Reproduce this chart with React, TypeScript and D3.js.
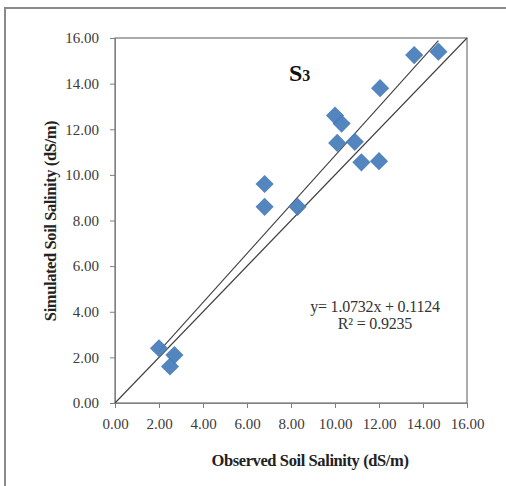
import * as d3 from "d3";
import React from "react";

// observed (x) vs simulated (y) soil salinity, dS/m
const observed = [2.0, 2.7, 2.5, 6.8, 6.8, 8.3, 10.0, 10.3, 10.1, 10.9, 11.2, 12.0, 12.05, 13.6, 14.7];
const simulated = [2.4, 2.1, 1.6, 9.6, 8.6, 8.6, 12.6, 12.25, 11.4, 11.45, 10.55, 10.6, 13.8, 15.25, 15.4];
const ticks = [0, 2, 4, 6, 8, 10, 12, 14, 16];
const slope = 1.0732;
const intercept = 0.1124;
const equationLabels = ["y= 1.0732x + 0.1124", "R² = 0.9235"];

const App = () => {
  const ref = React.useRef<SVGSVGElement>(null);

  React.useEffect(() => {
    const width = 506,
      height = 486;
    const margin = { top: 38, right: 39, bottom: 83, left: 115 };
    const svg = d3.select(ref.current);
    svg.selectAll("*").remove();
    svg.attr("width", width).attr("height", height);

    const font = "'Liberation Serif', 'Times New Roman', serif";

    // outer frame
    svg
      .append("rect")
      .attr("x", 5)
      .attr("y", 8)
      .attr("width", width + 20)
      .attr("height", height + 20)
      .attr("fill", "white")
      .attr("stroke", "#8a8a8a")
      .attr("stroke-width", 2);

    const x = d3
      .scaleLinear()
      .domain([0, 16])
      .range([margin.left, width - margin.right]);
    const y = d3
      .scaleLinear()
      .domain([0, 16])
      .range([height - margin.bottom, margin.top]);

    // plot box
    svg
      .append("rect")
      .attr("x", x(0))
      .attr("y", y(16))
      .attr("width", x(16) - x(0))
      .attr("height", y(0) - y(16))
      .attr("fill", "none")
      .attr("stroke", "#595959")
      .attr("stroke-width", 1);

    const fmt = (d: d3.NumberValue) => d3.format(".2f")(d as number);
    const xAxis = d3.axisBottom(x).tickValues(ticks).tickSize(5).tickPadding(10).tickFormat(fmt);
    const yAxis = d3.axisLeft(y).tickValues(ticks).tickSize(5).tickPadding(11).tickFormat(fmt);

    const gx = svg
      .append("g")
      .attr("transform", `translate(0,${y(0)})`)
      .call(xAxis);
    const gy = svg
      .append("g")
      .attr("transform", `translate(${x(0)},0)`)
      .call(yAxis);

    [gx, gy].forEach((g) => {
      g.select(".domain").attr("stroke", "#7f7f7f");
      g.selectAll("line").attr("stroke", "#7f7f7f");
      g.selectAll("text")
        .attr("font-family", font)
        .attr("font-size", 15)
        .attr("fill", "#3a3a3a");
    });

    // 1:1 line
    const line = d3
      .line<number[]>()
      .x((d) => x(d[0]))
      .y((d) => y(d[1]));
    svg
      .append("path")
      .attr("d", line([[0, 0], [16, 16]]))
      .attr("stroke", "#404040")
      .attr("stroke-width", 1.1)
      .attr("fill", "none");

    // regression line, from min to max observed
    const x0 = d3.min(observed)!;
    const x1 = d3.max(observed)!;
    svg
      .append("path")
      .attr(
        "d",
        line([
          [x0, slope * x0 + intercept],
          [x1, slope * x1 + intercept],
        ])
      )
      .attr("stroke", "#404040")
      .attr("stroke-width", 1.1)
      .attr("fill", "none");

    // diamond markers
    const diamond = d3.symbol().type(d3.symbolSquare).size(165);
    svg
      .append("g")
      .selectAll("path")
      .data(observed.map((o, i) => [o, simulated[i]]))
      .enter()
      .append("path")
      .attr("d", diamond)
      .attr(
        "transform",
        (d) => `translate(${x(d[0])},${y(d[1])}) rotate(45)`
      )
      .attr("fill", "#4a7ebb")
      .attr("fill-opacity", 0.95);

    // title S3
    const title = svg
      .append("text")
      .attr("x", 289)
      .attr("y", 81)
      .attr("font-family", font)
      .attr("font-weight", "bold")
      .attr("fill", "#111");
    title.append("tspan").attr("font-size", 24).text("S");
    title.append("tspan").attr("font-size", 16).text("3");

    // equation
    svg
      .selectAll(".eq")
      .data(equationLabels)
      .enter()
      .append("text")
      .attr("class", "eq")
      .attr("x", 375)
      .attr("y", (_, i) => 312 + i * 17)
      .attr("text-anchor", "middle")
      .attr("font-family", font)
      .attr("font-size", 16)
      .attr("letter-spacing", -0.2)
      .attr("fill", "#333")
      .text((d) => d);

    // axis labels
    svg
      .append("text")
      .attr("x", 310)
      .attr("y", 466)
      .attr("text-anchor", "middle")
      .attr("font-family", font)
      .attr("font-weight", "bold")
      .attr("font-size", 16.5)
      .attr("letter-spacing", -0.4)
      .attr("fill", "#222")
      .text("Observed  Soil Salinity (dS/m)");

    svg
      .append("text")
      .attr("transform", `translate(56,221) rotate(-90)`)
      .attr("text-anchor", "middle")
      .attr("font-family", font)
      .attr("font-weight", "bold")
      .attr("font-size", 16.5)
      .attr("letter-spacing", -0.4)
      .attr("fill", "#222")
      .text("Simulated Soil Salinity (dS/m)");
  }, []);

  return (
    <div style={{ position: "absolute", left: 0, top: 0 }}>
      <svg ref={ref} style={{ display: "block" }} />
    </div>
  );
};

export default App;
